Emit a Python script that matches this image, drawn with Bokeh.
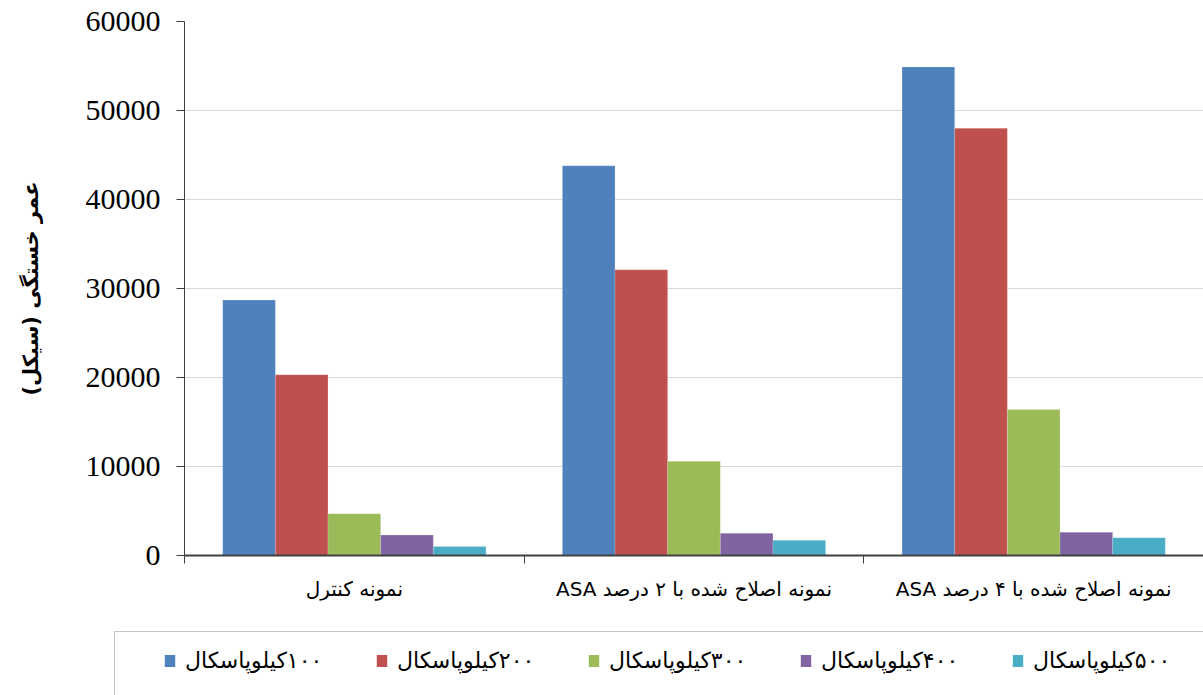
from bokeh.plotting import figure
from bokeh.layouts import column
from bokeh.models import Range1d, FixedTicker, Legend, LegendItem, ColumnDataSource, BoxAnnotation
from bokeh.embed import file_html
from bokeh.resources import INLINE

RLE, PDF = "\u202b", "\u202c"

categories = ["نمونه کنترل", "نمونه اصلاح شده با ۲ درصد ASA", "نمونه اصلاح شده با ۴ درصد ASA"]
series_names = ["۱۰۰کیلوپاسکال", "۲۰۰کیلوپاسکال", "۳۰۰کیلوپاسکال", "۴۰۰کیلوپاسکال", "۵۰۰کیلوپاسکال"]
s100 = [28700, 43800, 54900]
s200 = [20300, 32100, 48000]
s300 = [4700, 10600, 16400]
s400 = [2300, 2500, 2600]
s500 = [1000, 1700, 2000]
series_values = [s100, s200, s300, s400, s500]
colors = ["#4F81BD", "#C0504D", "#9BBB59", "#8064A2", "#4BACC6"]
y_ticks = [0, 10000, 20000, 30000, 40000, 50000, 60000]
y_tick_labels = ["0", "10000", "20000", "30000", "40000", "50000", "60000"]
y_label = "عمر خستگی (سیکل)"

def rtl(s):
    return RLE + s + PDF

n_cat = len(categories)
bw = 0.155

# ---------------- main chart ----------------
p = figure(width=1203, height=625, x_range=Range1d(0, n_cat), y_range=Range1d(0, 60000),
           output_backend="svg", toolbar_location=None,
           min_border_left=184, min_border_right=0, min_border_top=21, min_border_bottom=70)
p.outline_line_color = None
p.frame_align = False

sources = []
for j, vals in enumerate(series_values):
    xs = [i + 0.5 + (j - 2) * bw for i in range(n_cat)]
    src = ColumnDataSource(dict(x=xs, top=vals))
    sources.append(src)
    p.vbar(x="x", top="top", width=bw, source=src, fill_color=colors[j],
           line_color="white", line_alpha=0.35, line_width=0.5)

# y axis
p.yaxis.ticker = FixedTicker(ticks=y_ticks)
p.yaxis.major_label_overrides = {t: l for t, l in zip(y_ticks, y_tick_labels)}
p.yaxis.major_label_text_font = "Liberation Serif"
p.yaxis.major_label_text_font_size = "30px"
p.yaxis.major_label_text_color = "black"
p.yaxis.major_tick_out = 8
p.yaxis.major_tick_in = 0
p.yaxis.minor_tick_line_color = None
p.yaxis.major_label_standoff = 16
p.yaxis.axis_line_color = "#404040"
p.yaxis.major_tick_line_color = "#404040"
p.yaxis.axis_label = rtl(y_label)
p.yaxis.axis_label_text_font = "DejaVu Sans"
p.yaxis.axis_label_text_font_style = "bold"
p.yaxis.axis_label_text_font_size = "21px"
p.yaxis.axis_label_text_color = "black"
p.yaxis.axis_label_standoff = 40

# x axis
centers = [i + 0.5 for i in range(n_cat)]
bounds = [float(i) for i in range(n_cat + 1)]
p.xaxis.ticker = FixedTicker(ticks=centers, minor_ticks=bounds)
p.xaxis.major_label_overrides = {c: rtl(l) for c, l in zip(centers, categories)}
p.xaxis.major_label_text_font = "DejaVu Sans"
p.xaxis.major_label_text_font_size = "20px"
p.xaxis.major_label_text_color = "black"
p.xaxis.major_tick_out = 0
p.xaxis.major_tick_in = 0
p.xaxis.major_tick_line_color = None
p.xaxis.minor_tick_out = 8
p.xaxis.minor_tick_in = 0
p.xaxis.minor_tick_line_color = "#404040"
p.xaxis.major_label_standoff = 13
p.xaxis.axis_line_color = "#404040"
p.xaxis.axis_line_width = 2

p.xgrid.visible = False
p.ygrid.ticker = FixedTicker(ticks=y_ticks)
p.ygrid.grid_line_color = "#d9d9d9"

# ---------------- legend strip ----------------
p2 = figure(width=1203, height=70, x_range=Range1d(0, 1203), y_range=Range1d(0, 70),
            output_backend="svg", toolbar_location=None,
            min_border_left=0, min_border_right=0, min_border_top=0, min_border_bottom=0)
p2.frame_align = False
p2.axis.visible = False
p2.grid.visible = False
p2.outline_line_color = None

legend_renderers = []
for j, src in enumerate(sources):
    r = p2.vbar(x="x", top="top", width=bw, source=src, fill_color=colors[j],
                line_color=None, visible=False)
    legend_renderers.append(r)

p2.add_layout(BoxAnnotation(left=114, right=1300, bottom=-20, top=64,
                            fill_alpha=0, line_color="#333333", line_width=1))

legend = Legend(items=[LegendItem(label=rtl(n), renderers=[r]) for n, r in zip(series_names, legend_renderers)],
                orientation="horizontal", location=(163, 22), margin=0,
                padding=0, spacing=35, label_standoff=9, label_width=155,
                glyph_width=13, glyph_height=15,
                label_text_font="DejaVu Sans", label_text_font_size="22px",
                label_text_color="black",
                border_line_color=None, background_fill_alpha=0)
p2.add_layout(legend, "center")

open("out.html", "w").write(file_html(column(p, p2), INLINE))
